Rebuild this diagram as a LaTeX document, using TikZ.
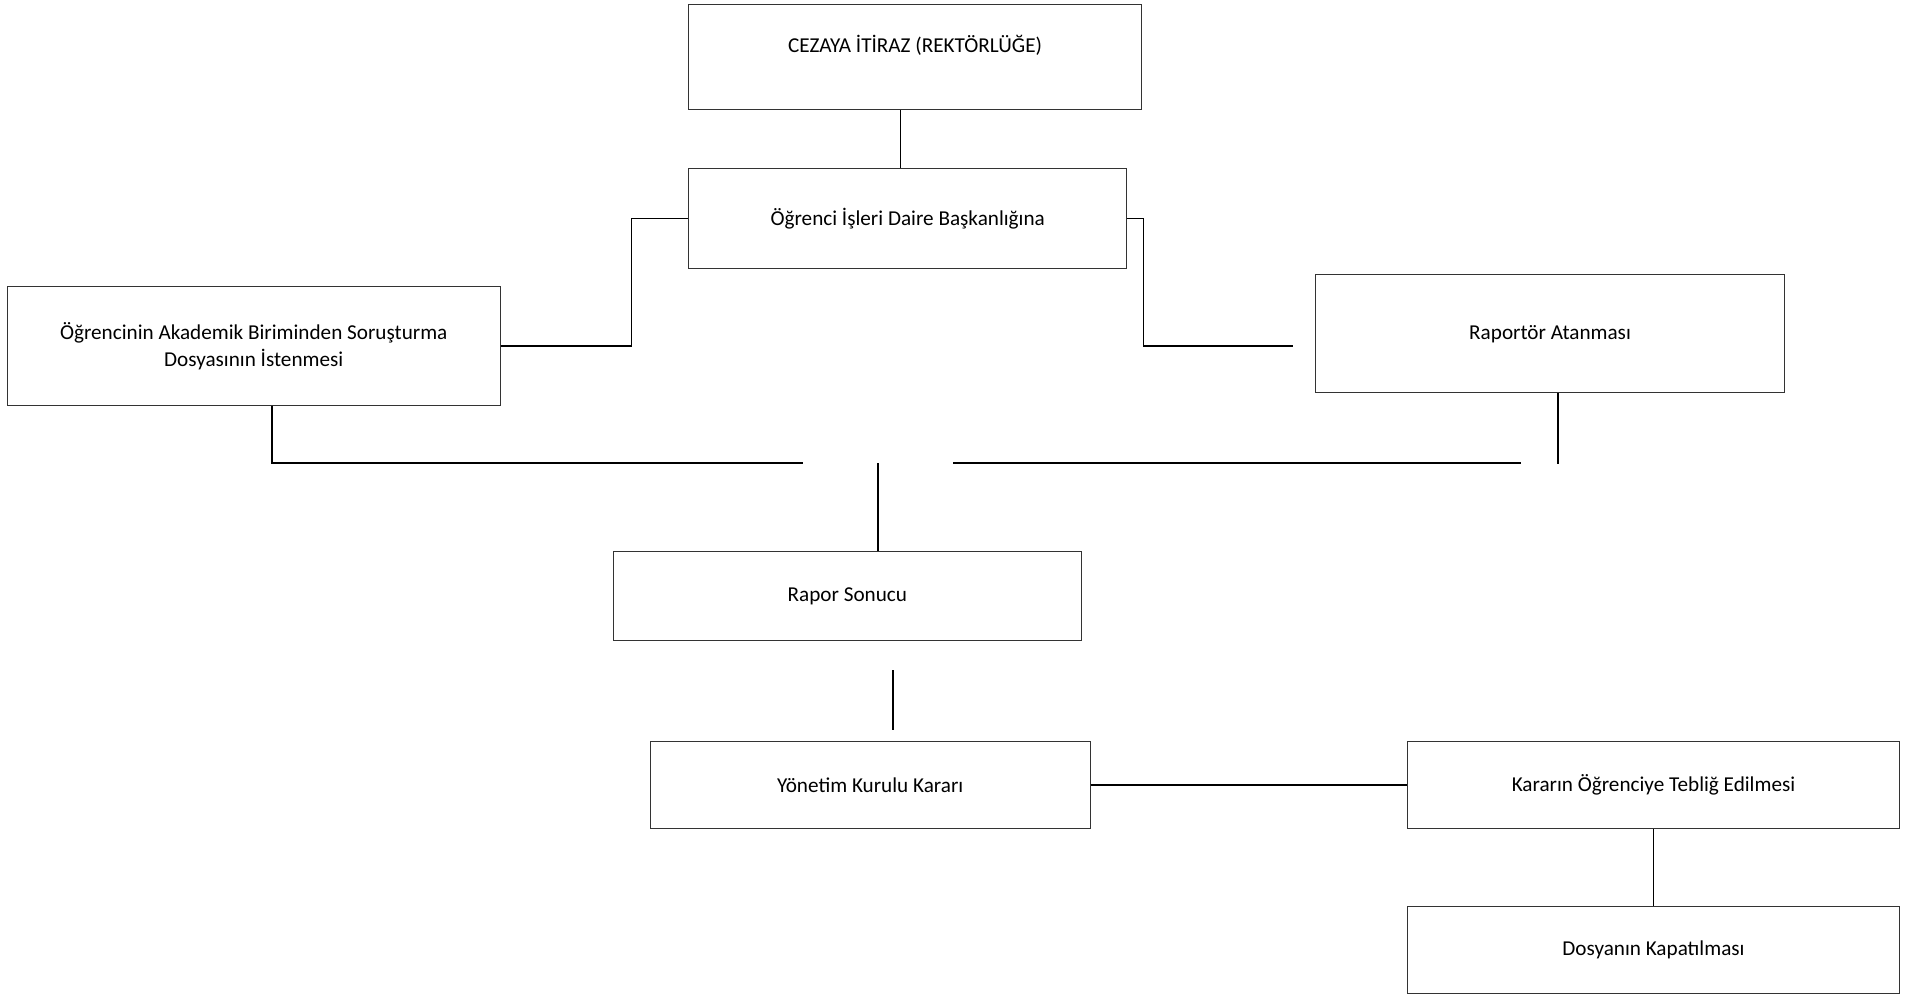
\documentclass[tikz,border=0pt]{standalone}
\usepackage{fontspec}
\setmainfont{Carlito}
\begin{document}
\begin{tikzpicture}[x=1pt, y=-1pt,
   kutu/.style={draw=black!80, line width=0.8pt, inner sep=0pt, align=center,
      font=\fontsize{17.2}{22}\selectfont},
   hat/.style={line width=1.3pt, black}]
   \useasboundingbox (0,0) rectangle (1567,808);

   % Itiraz ve daire baskanligi
   \node[kutu, minimum width=368, minimum height=85, text height=12pt, text depth=20pt] (itiraz) at (743,46.5) {CEZAYA İTİRAZ (REKTÖRLÜĞE)};
   \node[kutu, minimum width=356, minimum height=81] (ogrenci) at (737,177.5) {Öğrenci İşleri Daire Başkanlığına};
   \draw[hat] ([xshift=-12pt]itiraz.south) to ([xshift=-6pt]ogrenci.north);

   % Iki kol
   \node[kutu, minimum width=400, minimum height=96] (akademik) at (206,281) {Öğrencinin Akademik Biriminden Soruşturma\\Dosyasının İstenmesi};
   \node[kutu, minimum width=381, minimum height=96] (raportor) at (1258.5,271) {Raportör Atanması};
   \coordinate (raportorUc) at (1050,281);
   \draw[hat] (ogrenci.west) -- ++(-46,0) |- (akademik.east);
   \draw[hat] (ogrenci.east) -- ++(13,0) |- (raportorUc);

   % Birlesme
   \coordinate (solUc) at (652,376);
   \coordinate (ortaUc) at (713,376);
   \coordinate (sagBas) at (774,376);
   \coordinate (sagUc) at (1235,376);
   \node[kutu, minimum width=380, minimum height=72] (rapor) at (688,484) {Rapor Sonucu};
   \draw[hat] ([xshift=15pt]akademik.south) |- (solUc);
   \draw[hat] (sagBas) -- (sagUc);
   \draw[hat] ([xshift=6.5pt]raportor.south) -- ++(0,57);
   \draw[hat] (ortaUc) -- (ortaUc |- rapor.north);

   % Karar ve teblig
   \coordinate (kararUst) at (725,544);
   \coordinate (kararAlt) at (725,593);
   \node[kutu, minimum width=357, minimum height=71] (yonetim) at (706.5,637.5) {Yönetim Kurulu Kararı};
   \node[kutu, minimum width=399, minimum height=71] (teblig) at (1342.5,637.5) {Kararın Öğrenciye Tebliğ Edilmesi};
   \node[kutu, minimum width=399, minimum height=71] (dosya) at (1342.5,771.5) {Dosyanın Kapatılması};
   \draw[hat] (kararUst) -- (kararAlt);
   \draw[hat] (yonetim.east) -- (teblig.west);
   \draw[hat] (teblig.south) -- (dosya.north);
\end{tikzpicture}
\end{document}
